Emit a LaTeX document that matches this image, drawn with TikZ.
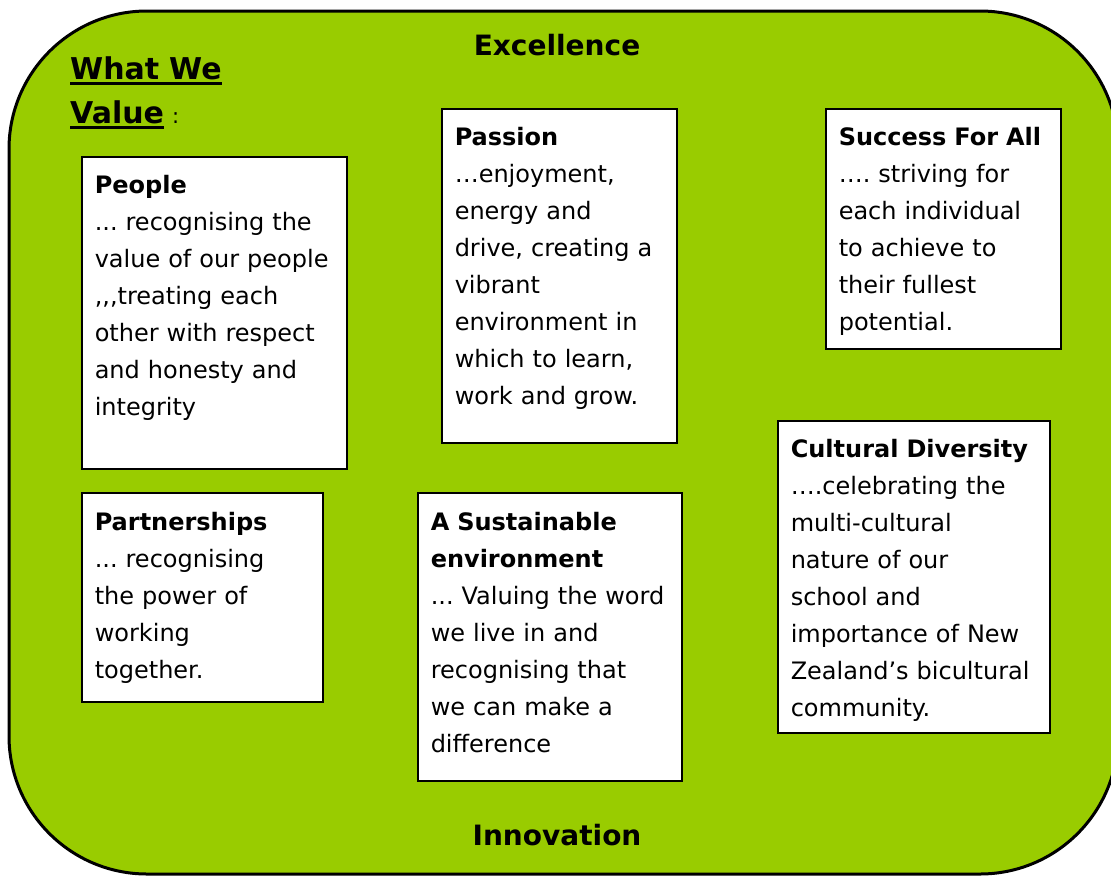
\documentclass[tikz,border=0pt]{standalone}
\usepackage{fontspec}
\setmainfont{DejaVu Sans}
\frenchspacing
\definecolor{valuegreen}{HTML}{99CC00}
\newcommand{\ulword}[1]{\vtop{\hbox{#1}\kern3pt\hrule height 2.5pt}}

\begin{document}
\begin{tikzpicture}[x=1pt,y=-1pt,
valbox/.style={draw=black,line width=1.5pt,fill=white,anchor=north west,
        inner xsep=13pt,inner ysep=0pt,align=left,text height=37pt,
        font=\fontsize{24}{37}\selectfont},
head/.style={anchor=base,inner sep=0pt,font=\fontsize{28}{34}\selectfont\bfseries}]
\useasboundingbox (0,0) rectangle (1111,876);
\clip (0,0) rectangle (1111,876);
\draw[line width=3pt,fill=valuegreen,rounded corners=138pt] (9,11) rectangle (1118,874);

\node[head] (excellence) at (557,55) {Excellence};
\node[head] (innovation) at (557,845) {Innovation};
\node[anchor=base west,text width=260pt,align=left,inner sep=0pt,
      font=\fontsize{30}{44}\selectfont\bfseries] (whatwe) at (70,79)
      {\ulword{What We}\\\mbox{\ulword{Value}\hspace{8pt}{\mdseries\fontsize{21}{21}\selectfont :}}};

\node[valbox,text width=239pt,text depth=275pt] (people) at (81,156)
  {\textbf{People}\\... recognising the\\value of our people\\{,}{,}{,}treating each\\other with respect\\and honesty and\\integrity};
\node[valbox,text width=209pt,text depth=297pt] (passion) at (441,108)
  {\textbf{Passion}\\…enjoyment,\\energy and\\drive, creating a\\vibrant\\environment in\\which to learn,\\work and grow.};
\node[valbox,text width=209pt,text depth=203pt] (success) at (825,108)
  {\textbf{Success For All}\\…. striving for\\each individual\\to achieve to\\their fullest\\potential.};
\node[valbox,text width=215pt,text height=38pt,text depth=171pt] (partners) at (81,492)
  {\textbf{Partnerships}\\... recognising\\the power of\\working\\together.};
\node[valbox,text width=238pt,text height=38pt,text depth=250pt] (sustain) at (417,492)
  {\textbf{A Sustainable}\\\textbf{environment}\\... Valuing the word\\we live in and\\recognising that\\we can make a\\difference};
\node[valbox,text width=246pt,text depth=275pt] (culture) at (777,420)
  {\textbf{Cultural Diversity}\\….celebrating the\\multi-cultural\\nature of our\\school and\\importance of New\\Zealand’s bicultural\\community.};
\end{tikzpicture}
\end{document}
